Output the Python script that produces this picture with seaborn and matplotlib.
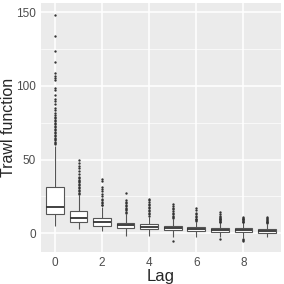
import numpy as np
import pandas as pd
import seaborn as sns
import matplotlib.pyplot as plt

# box statistics per lag
lags = [0, 1, 2, 3, 4, 5, 6, 7, 8, 9]
whisker_lo = [5.0, 2.7, 1.6, -1.8, -1.8, -2.5, -2.6, -2.5, -3.2, -2.7]
q1 = [12.9, 7.5, 5.0, 3.4, 2.7, 1.9, 1.4, 0.9, 0.7, 0.4]
median = [18.1, 10.4, 7.5, 5.4, 4.6, 3.3, 2.7, 2.2, 2.0, 1.8]
q3 = [31.7, 15.2, 10.2, 7.2, 6.1, 5.0, 4.1, 3.4, 3.4, 2.9]
whisker_hi = [59.5, 26.3, 17.8, 12.8, 11.0, 9.5, 8.0, 7.0, 7.2, 6.5]

outliers_hi = [
    [148.4, 134, 123.5, 116, 109, 107, 105.5, 104, 98.5, 97, 94, 91, 89.5, 88, 85, 83.5,
     81.5, 80, 79, 78, 77, 76, 75, 74, 73, 72, 71, 70, 69, 68, 67, 66, 65, 64, 63, 62, 61, 60.5],
    [49.8, 47.5, 46, 44, 42.5, 40.5, 38.5, 37.5, 36.5, 35.5, 34.5, 33.5, 32.5, 31.5, 30.5,
     29.5, 28.5, 27.5, 27],
    [37, 35.5, 31.5, 30, 28.5, 26.5, 25, 23.5, 22.5, 21.5, 20.5, 19.5, 19],
    [27.5, 22.5, 21.5, 20.5, 19.5, 18.5, 17.5, 16.5, 15.5, 14.5, 13.5],
    [23.5, 22.5, 21, 20, 19, 18, 17, 16, 15, 14, 13, 12],
    [20, 18.5, 17.5, 16.5, 15, 14, 13, 12, 11, 10.2],
    [17, 15.5, 14, 13, 12, 11, 10, 9.5, 9, 8.5],
    [14.3, 13, 12, 11, 10.5, 10, 9.5, 9, 8.5, 8, 7.5],
    [11.3, 10.5, 10, 9.5, 9, 8.5, 8, 7.8],
    [11.3, 10.5, 9.8, 9, 8.5, 8, 7.5, 7],
]
outliers_lo = [[], [], [], [], [], [-5.0], [], [-3.9], [-4.0, -4.6, -5.2], []]

# rebuild a sample per lag that gives exactly these box statistics
rows = []
for i, lag in enumerate(lags):
    vals = (outliers_lo[i] + [whisker_lo[i]] + [q1[i]] * 200 + [median[i]] * 200
            + [q3[i]] * 200 + [whisker_hi[i]] + outliers_hi[i])
    for v in vals:
        rows.append((lag, v))
df = pd.DataFrame(rows, columns=['Lag', 'Trawl'])

sns.set_style("darkgrid", {"axes.facecolor": "#EBEBEB", "grid.color": "white"})
plt.rcParams['font.family'] = ['Liberation Sans', 'DejaVu Sans']

fig = plt.figure(figsize=(2.84, 2.84), dpi=100)
ax = fig.add_axes([0.144, 0.1137, 0.8454, 0.8747])

sns.boxplot(data=df, x='Lag', y='Trawl', order=lags, ax=ax, width=0.75,
            color='white', linecolor='#555555', linewidth=0.8, showcaps=False,
            flierprops=dict(marker='o', markersize=1.7, markerfacecolor='#333333',
                            markeredgewidth=0),
            medianprops=dict(linewidth=1.3, color='#333333'))

ax.set_xlim(-0.6, 9.6)
ax.set_ylim(-12.5, 156.1)
ax.set_xticks([0, 2, 4, 6, 8])
ax.set_xticklabels(['0', '2', '4', '6', '8'])
ax.set_yticks([0, 50, 100, 150])
ax.set_yticks([25, 75, 125], minor=True)
ax.grid(True, which='major', color='white', linewidth=1.1)
ax.grid(True, which='minor', axis='y', color='white', linewidth=0.5)
ax.xaxis.grid(True, which='major')
ax.set_axisbelow(True)
for s in ax.spines.values():
    s.set_visible(False)

ax.tick_params(axis='both', which='major', length=2.2, width=0.6, color='#333333',
               labelcolor='#4D4D4D', labelsize=8.5, pad=1.5)
ax.tick_params(axis='both', which='minor', length=0)
ax.set_xlabel('Lag', fontsize=12)
ax.set_ylabel('Trawl function', fontsize=11.5)
ax.yaxis.set_label_coords(-0.137, 0.5)
ax.xaxis.set_label_coords(0.5, -0.098)
ax.xaxis.label.set_va('center')
ax.yaxis.label.set_va('center')

fig.savefig('out.png', dpi=100)
